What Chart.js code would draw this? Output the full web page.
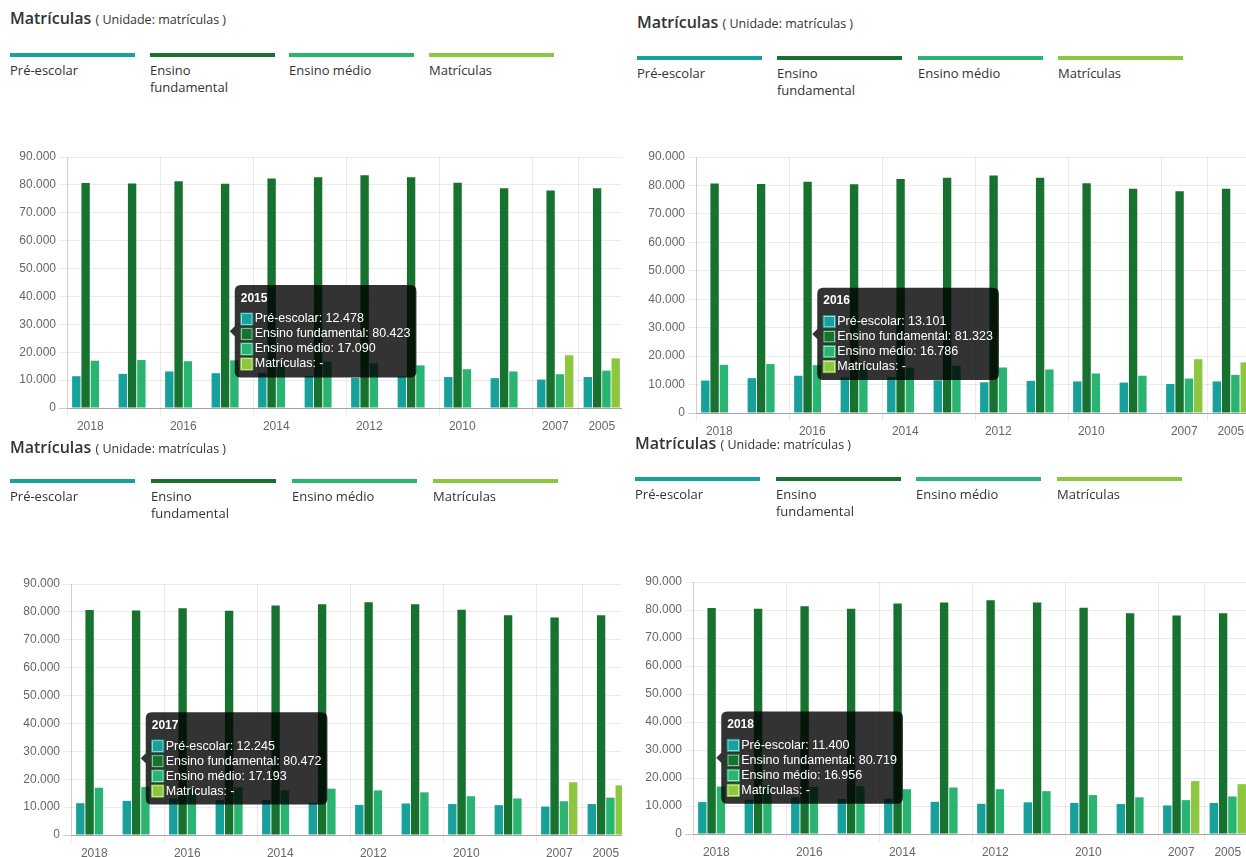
<!DOCTYPE html>
<html lang="pt-BR">
<head>
<meta charset="utf-8">
<title>Matrículas</title>
<script src="https://cdn.jsdelivr.net/npm/chart.js@4.4.1/dist/chart.umd.min.js"></script>
<style>
	html, body { margin: 0; padding: 0; background: #fff; }
	body { width: 1246px; height: 857px; position: relative; overflow: hidden; font-family: 'Open Sans', Arial, sans-serif; color: #333; }
	.painel { position: absolute; overflow: hidden; }
	.titulo { position: absolute; white-space: nowrap; font-size: 16px; font-weight: 600; line-height: 20px; color: #333; }
	.titulo span { font-size: 12.5px; font-weight: 400; }
	.leg-linha { position: absolute; height: 4px; width: 125px; }
	.leg-texto { position: absolute; width: 105px; font-size: 13px; line-height: 17px; color: #333; }
	canvas { position: absolute; }
</style>
</head>
<body>
<script>
	// anos na ordem em que aparecem no eixo
	var anos = ['2018', '2017', '2016', '2015', '2014', '2013', '2012', '2011', '2010', '2009', '2007', '2005'];
	var preEscolar = [11400, 12245, 13101, 12478, 12600, 11500, 10800, 11300, 11100, 10700, 10200, 11100];
	var fundamental = [80719, 80472, 81323, 80423, 82300, 82700, 83500, 82700, 80800, 78800, 78000, 78800];
	var medio = [16956, 17193, 16786, 17090, 16000, 16600, 16000, 15300, 13900, 13100, 12100, 13400];
	var matriculas = [null, null, null, null, null, null, null, null, null, null, 18900, 17800];
	var series = ['Pré-escolar', 'Ensino fundamental', 'Ensino médio', 'Matrículas'];
	var cores = ['#17a19a', '#17712f', '#29b472', '#8dc63f'];
	var yMax = 90000;
	var yPasso = 10000;

	// rótulos do eixo x que ficam visíveis (os outros são pulados)
	var anosVisiveis = [0, 2, 4, 6, 8, 10, 11];

	// cada quadro com o ano destacado no tooltip
	var paineis = [
		{ left: 0, top: 0, w: 622, h: 437, titleX: 10, titleY: 8, lineY: 53, textY: 62, legX: 10, legStep: 139.5, axisX: 67, y90: 157, y0: 408, ativo: 3 },
		{ left: 622, top: 0, w: 624, h: 437, titleX: 637, titleY: 12, lineY: 56, textY: 65, legX: 637, legStep: 140.3, axisX: 696, y90: 157, y0: 413, ativo: 2 },
		{ left: 0, top: 432, w: 622, h: 425, titleX: 10, titleY: 437, lineY: 479, textY: 488, legX: 10, legStep: 141, axisX: 71, y90: 584, y0: 835, ativo: 1 },
		{ left: 622, top: 432, w: 624, h: 425, titleX: 635, titleY: 433, lineY: 477, textY: 486, legX: 635, legStep: 140.7, axisX: 693, y90: 582, y0: 834, ativo: 0 }
	];

	var larguraY = 50;
	var alturaX = 32;
	var folgaTopo = 12;
	var larguraCategoria = 46.5;

	function milhar(v) {
		return String(v).replace(/\B(?=(\d{3})+(?!\d))/g, '.');
	}

	Chart.defaults.font.family = "'Helvetica Neue', Helvetica, Arial, sans-serif";
	Chart.defaults.font.size = 12;
	Chart.defaults.color = '#666';

	// posição do tooltip: centro da categoria, média das alturas (nulo conta como zero)
	Chart.Tooltip.positioners.media = function (items) {
		if (!items.length) return false;
		var chart = this.chart;
		var soma = 0;
		items.forEach(function (it) {
			var v = chart.data.datasets[it.datasetIndex].data[it.index];
			soma += chart.scales.y.getPixelForValue(v == null ? 0 : v);
		});
		return { x: chart.scales.x.getPixelForValue(items[0].index), y: soma / items.length };
	};

	function montaPainel(p) {
		var div = document.createElement('div');
		div.className = 'painel';
		div.style.left = p.left + 'px';
		div.style.top = p.top + 'px';
		div.style.width = p.w + 'px';
		div.style.height = p.h + 'px';
		document.body.appendChild(div);

		var titulo = document.createElement('div');
		titulo.className = 'titulo';
		titulo.style.left = (p.titleX - p.left) + 'px';
		titulo.style.top = (p.titleY - p.top) + 'px';
		titulo.innerHTML = 'Matrículas <span>( Unidade: matrículas )</span>';
		div.appendChild(titulo);

		series.forEach(function (nome, i) {
			var linha = document.createElement('div');
			linha.className = 'leg-linha';
			linha.style.left = Math.round(p.legX + i * p.legStep - p.left) + 'px';
			linha.style.top = (p.lineY - p.top) + 'px';
			linha.style.background = cores[i];
			div.appendChild(linha);

			var texto = document.createElement('div');
			texto.className = 'leg-texto';
			texto.style.left = Math.round(p.legX + i * p.legStep - p.left) + 'px';
			texto.style.top = (p.textY - p.top) + 'px';
			texto.textContent = nome;
			div.appendChild(texto);
		});

		var canvas = document.createElement('canvas');
		var altura = folgaTopo + (p.y0 - p.y90) + alturaX;
		canvas.width = larguraY + anos.length * larguraCategoria;
		canvas.height = altura;
		canvas.style.left = (p.axisX - larguraY - p.left) + 'px';
		canvas.style.top = (p.y90 - folgaTopo - p.top) + 'px';
		div.appendChild(canvas);

		var valores = [preEscolar, fundamental, medio, matriculas];
		var chart = new Chart(canvas.getContext('2d'), {
			type: 'bar',
			data: {
				labels: anos,
				datasets: series.map(function (nome, i) {
					return {
						label: nome,
						data: valores[i],
						backgroundColor: cores[i],
						hoverBackgroundColor: cores[i],
						borderWidth: 0
					};
				})
			},
			options: {
				responsive: false,
				animation: false,
				events: [],
				layout: { padding: { top: folgaTopo, left: 0, right: 0, bottom: 0 } },
				scales: {
					x: {
						afterFit: function (s) { s.height = alturaX; },
						grid: {
							color: function (ctx) {
								return anosVisiveis.indexOf(ctx.index) >= 0 ? 'rgba(0,0,0,0.08)' : 'transparent';
							}
						},
						border: { color: 'rgba(0,0,0,0.2)' },
						ticks: {
							autoSkip: false,
							maxRotation: 0,
							color: '#666',
							callback: function (value, index) {
								return anosVisiveis.indexOf(index) >= 0 ? this.getLabelForValue(value) : '';
							}
						}
					},
					y: {
						min: 0,
						max: yMax,
						afterFit: function (s) { s.width = larguraY; },
						grid: {
							color: function (ctx) {
								return ctx.tick && ctx.tick.value === 0 ? 'rgba(0,0,0,0.2)' : 'rgba(0,0,0,0.08)';
							}
						},
						border: { color: 'rgba(0,0,0,0.12)' },
						ticks: {
							stepSize: yPasso,
							color: '#666',
							callback: function (v) { return milhar(v); }
						}
					}
				},
				plugins: {
					legend: { display: false },
					tooltip: {
						position: 'media',
						xAlign: 'left',
						yAlign: 'center',
						backgroundColor: 'rgba(0,0,0,0.8)',
						titleFont: { size: 12, weight: 'bold' },
						bodyFont: { size: 12.5 },
						titleMarginBottom: 6,
						bodySpacing: 0,
						padding: 6,
						caretPadding: 0,
						caretSize: 5,
						cornerRadius: 6,
						boxWidth: 12,
						boxHeight: 12,
						callbacks: {
							label: function (ctx) {
								return ctx.dataset.label + ': ' + (ctx.raw == null ? '-' : milhar(ctx.raw));
							},
							labelColor: function (ctx) {
								return { borderColor: ctx.dataset.backgroundColor, backgroundColor: ctx.dataset.backgroundColor };
							}
						}
					}
				}
			}
		});

		var ativos = series.map(function (s, i) { return { datasetIndex: i, index: p.ativo }; });
		chart.tooltip.setActiveElements(ativos, { x: 0, y: 0 });
		chart.draw();
	}

	paineis.forEach(montaPainel);
</script>
</body>
</html>
